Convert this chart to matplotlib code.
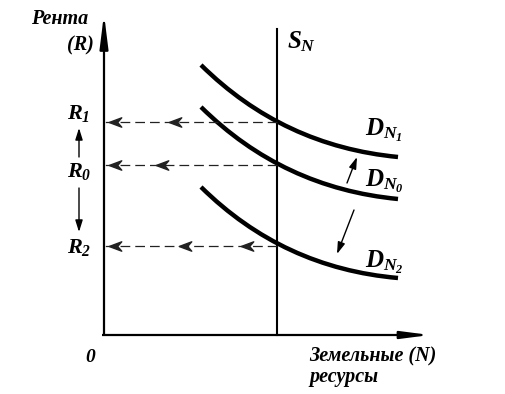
import matplotlib
matplotlib.use('Agg')
import matplotlib.pyplot as plt
from matplotlib.path import Path
from matplotlib.patches import PathPatch

plt.rcParams['mathtext.fontset'] = 'custom'
plt.rcParams['mathtext.rm'] = 'Liberation Serif:bold:italic'
plt.rcParams['mathtext.it'] = 'Liberation Serif:bold:italic'
plt.rcParams['mathtext.bf'] = 'Liberation Serif:bold:italic'
plt.rcParams['lines.scale_dashes'] = False

# demand curves: start point, bezier control point, end point
curve_x = [201, 283, 398]
dn1_y = [65, 146, 157]
dn0_y = [107, 188, 199]
dn2_y = [187, 268, 278]
curve_names = [r'$D_{N_1}$', r'$D_{N_0}$', r'$D_{N_2}$']
curve_label_y = [130, 181, 262]

# supply line and rent levels
sn_x = 277
rent_levels = [122, 165, 246]
rent_names = [r'$R_1$', r'$R_0$', r'$R_2$']
rent_label_y = [113, 171, 247]
# where the little arrow heads sit on each dashed line
head_x = [[115, 175], [115, 162], [115, 185, 247]]

axis_x0, axis_y0 = 104, 335
axis_top, axis_right = 14, 430

fig = plt.figure(figsize=(5.06, 3.94), dpi=100)
ax = fig.add_axes([0, 0, 1, 1])
ax.set_xlim(0, 506)
ax.set_ylim(394, 0)
ax.axis('off')

ink = 'black'
serif = 'Liberation Serif'

# axes with arrows
ax.plot([axis_x0, axis_x0], [axis_y0, axis_top + 20], color=ink, lw=1.6, solid_capstyle='butt')
ax.annotate('', xy=(axis_x0, axis_top), xytext=(axis_x0, axis_top + 30),
            arrowprops=dict(arrowstyle='-|>,head_length=2.0,head_width=0.25', color=ink, lw=1.6,
                            shrinkA=0, shrinkB=0))
ax.plot([axis_x0 - 2, axis_right - 15], [axis_y0, axis_y0], color=ink, lw=1.6, solid_capstyle='butt')
ax.annotate('', xy=(axis_right, axis_y0), xytext=(axis_right - 25, axis_y0),
            arrowprops=dict(arrowstyle='-|>,head_length=1.7,head_width=0.22', color=ink, lw=1.6,
                            shrinkA=0, shrinkB=0))

# supply line
ax.plot([sn_x, sn_x], [29, axis_y0], color=ink, lw=1.5)
ax.text(287, 42, r'$S_N$', fontsize=18, ha='left', va='center')

# demand curves
for ys in [dn1_y, dn0_y, dn2_y]:
    verts = list(zip(curve_x, ys))
    path = Path(verts, [Path.MOVETO, Path.CURVE3, Path.CURVE3])
    ax.add_patch(PathPatch(path, facecolor='none', edgecolor=ink, lw=3.2, capstyle='butt'))
for name, ly in zip(curve_names, curve_label_y):
    ax.text(365, ly, name, fontsize=18, ha='left', va='center')

# dashed projections to the rent axis
head = Path([(-1, 0), (1, 0.75), (0.35, 0), (1, -0.75), (-1, 0)],
            [Path.MOVETO, Path.LINETO, Path.LINETO, Path.LINETO, Path.CLOSEPOLY])
for lvl, hx in zip(rent_levels, head_x):
    ax.plot([sn_x, axis_x0], [lvl, lvl], color='#222222', lw=0.9, dashes=(7, 3.6))
    ax.plot(hx, [lvl] * len(hx), ls='none', marker=head, ms=9, color='#222222')

for name, ly in zip(rent_names, rent_label_y):
    ax.text(79, ly, name, fontsize=16, ha='center', va='center')

# small shift arrows
small = dict(arrowstyle='-|>,head_length=0.7,head_width=0.22', color=ink, lw=1.0, shrinkA=0, shrinkB=0)
ax.annotate('', xy=(79, 128), xytext=(79, 157), arrowprops=small)
ax.annotate('', xy=(79, 232), xytext=(79, 188), arrowprops=small)
ax.annotate('', xy=(357, 157), xytext=(347, 183), arrowprops=small)
ax.annotate('', xy=(337, 254), xytext=(354, 210), arrowprops=small)

# axis titles
txt = dict(family=serif, fontweight='bold', fontstyle='italic', va='center')
ax.text(31, 19, 'Рента', fontsize=14.5, ha='left', **txt)
ax.text(80, 45, '(R)', fontsize=14.5, ha='center', **txt)
ax.text(90, 357, '0', fontsize=14, ha='center', **txt)
ax.text(309, 356, 'Земельные (N)', fontsize=14.5, ha='left', **txt)
ax.text(309, 377, 'ресурсы', fontsize=14.5, ha='left', **txt)

fig.savefig('out.png', dpi=100)
